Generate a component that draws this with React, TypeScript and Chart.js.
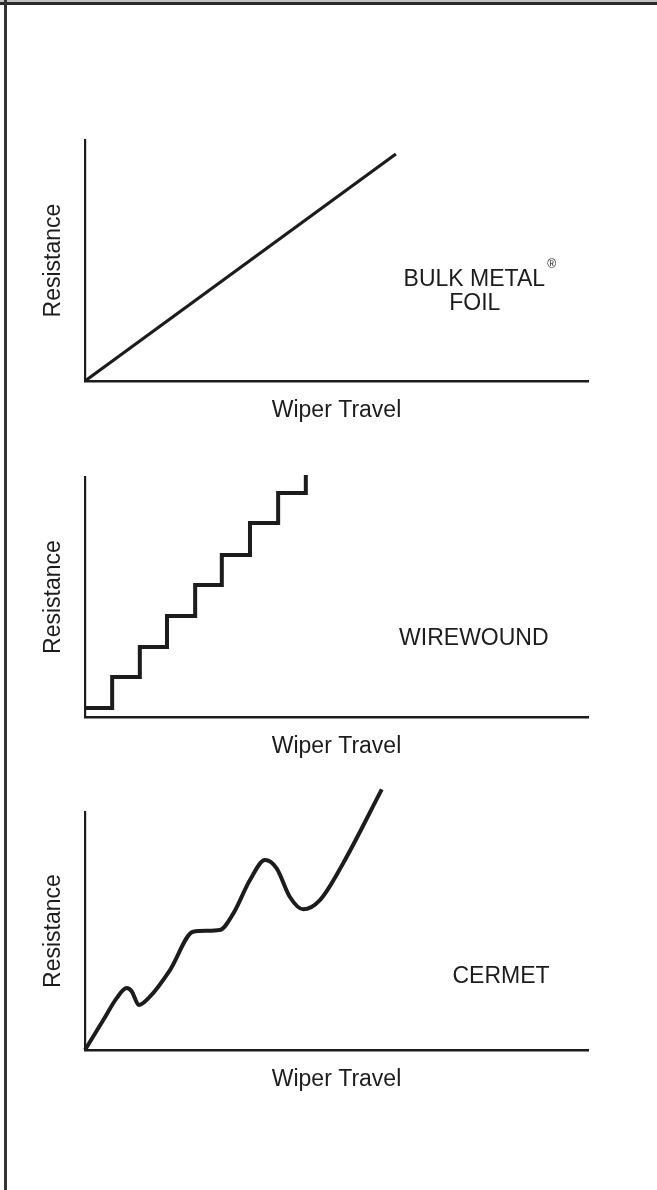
import React, { useEffect, useRef } from "react";
import { Chart, registerables } from "chart.js";

Chart.register(...registerables);

const FONT = "Arial, 'Liberation Sans', Helvetica, sans-serif";
const INK = "#1c1c1c";

// Axis titles
const xAxisTitle = "Wiper Travel";
const yAxisTitle = "Resistance";

// Panel 1: Bulk Metal Foil (straight, linear)
const foilX = [0, 61.8];
const foilY = [0, 94.2];

// Panel 2: Wirewound (staircase)
const wireX = [0, 5.4, 10.9, 16.3, 21.9, 27.2, 32.8, 38.4, 43.9];
const wireY = [3.75, 16.7, 29.2, 42.1, 55.0, 67.5, 80.8, 93.3, 100.8];

// Panel 3: Cermet (wavy)
const cermetX = [0, 3.64, 6.3, 8.3, 9.3, 10.7, 12.9, 16.9, 21.5, 24.2, 26.8, 29.5, 32.8, 35.8, 38.1, 40.7, 43.4, 46.7, 51.3, 59.0];
const cermetY = [0, 12.6, 21.8, 26.0, 24.6, 18.9, 22.4, 33.6, 49.7, 50.1, 50.4, 57.4, 71.4, 79.8, 76.3, 64.4, 59.1, 63.0, 78.4, 109.5];

// Type labels
const foilLabel = ["BULK METAL", "FOIL"];
const regMark = "®";
const wireLabel = "WIREWOUND";
const cermetLabel = "CERMET";

const labelPlugin = {
  id: "typeLabel",
  afterDatasetsDraw(chart: any, _args: any, opts: any) {
    const items = (opts && opts.items) || [];
    const { ctx, scales } = chart;
    ctx.save();
    ctx.fillStyle = INK;
    ctx.textAlign = "center";
    ctx.textBaseline = "alphabetic";
    for (const it of items) {
      ctx.font = `${it.size}px ${FONT}`;
      ctx.fillText(it.text, scales.x.getPixelForValue(it.x), scales.y.getPixelForValue(it.y));
    }
    ctx.restore();
  },
};

function toPoints(xs: number[], ys: number[]) {
  return xs.map((x, i) => ({ x, y: ys[i] }));
}

function Panel({ top, height, dataset, items }: any) {
  const ref = useRef<HTMLCanvasElement>(null);
  useEffect(() => {
    if (!ref.current) return;
    const titleFont = { family: FONT, size: 23 };
    const chart = new Chart(ref.current, {
      type: "line",
      data: { datasets: [dataset] },
      options: {
        animation: false,
        responsive: false,
        events: [],
        layout: { padding: { top: 30, right: 69, bottom: 0, left: 0 } },
        scales: {
          x: {
            type: "linear",
            min: 0,
            max: 100,
            ticks: { display: false },
            grid: { display: false, drawTicks: false },
            border: { display: true, color: INK, width: 2.5 },
            title: { display: true, text: xAxisTitle, color: INK, font: titleFont, padding: { top: 0, bottom: 7 } },
            afterFit: (s: any) => {
              s.height = 50;
            },
          },
          y: {
            type: "linear",
            min: 0,
            max: 100,
            ticks: { display: false },
            grid: { display: false, drawTicks: false },
            border: { display: true, color: INK, width: 2.2 },
            title: { display: true, text: yAxisTitle, color: INK, font: titleFont, padding: { top: 40, bottom: 0 } },
            afterFit: (s: any) => {
              s.width = 85;
            },
          },
        },
        plugins: {
          legend: { display: false },
          tooltip: { enabled: false },
          typeLabel: { items },
        } as any,
      },
      plugins: [labelPlugin as any],
    });
    return () => chart.destroy();
  }, []);
  return (
    <canvas
      ref={ref}
      width={657}
      height={height}
      style={{ position: "absolute", left: 0, top, display: "block" }}
    />
  );
}

export default function App() {
  const foilSet = {
    data: toPoints(foilX, foilY),
    borderColor: INK,
    borderWidth: 3.2,
    pointRadius: 0,
    borderCapStyle: "butt",
    clip: false,
  };
  const wireSet = {
    data: toPoints(wireX, wireY),
    borderColor: INK,
    borderWidth: 4,
    pointRadius: 0,
    stepped: "before",
    borderCapStyle: "butt",
    borderJoinStyle: "miter",
    clip: false,
  };
  const cermetSet = {
    data: toPoints(cermetX, cermetY),
    borderColor: INK,
    borderWidth: 4,
    pointRadius: 0,
    cubicInterpolationMode: "monotone",
    borderCapStyle: "butt",
    borderJoinStyle: "round",
    clip: false,
  };
  return (
    <div style={{ position: "absolute", left: 0, top: 0, width: 657, height: 1190, background: "#fff", overflow: "hidden" }}>
      <div style={{ position: "absolute", left: 0, top: 0, width: 657, height: 2, background: "#c4c4c4" }} />
      <div style={{ position: "absolute", left: 0, top: 2, width: 657, height: 3, background: "#2b2b2b" }} />
      <div style={{ position: "absolute", left: 4, top: 0, width: 3, height: 1190, background: "#333" }} />
      <Panel
        top={110}
        height={321}
        dataset={foilSet}
        items={[
          { text: foilLabel[0], x: 77.4, y: 39.4, size: 23 },
          { text: foilLabel[1], x: 77.5, y: 29.5, size: 23 },
          { text: regMark, x: 92.8, y: 47.0, size: 12 },
        ]}
      />
      <Panel
        top={447}
        height={320}
        dataset={wireSet}
        items={[{ text: wireLabel, x: 77.3, y: 30.0, size: 23 }]}
      />
      <Panel
        top={782}
        height={318}
        dataset={cermetSet}
        items={[{ text: cermetLabel, x: 82.7, y: 28.2, size: 23 }]}
      />
    </div>
  );
}
